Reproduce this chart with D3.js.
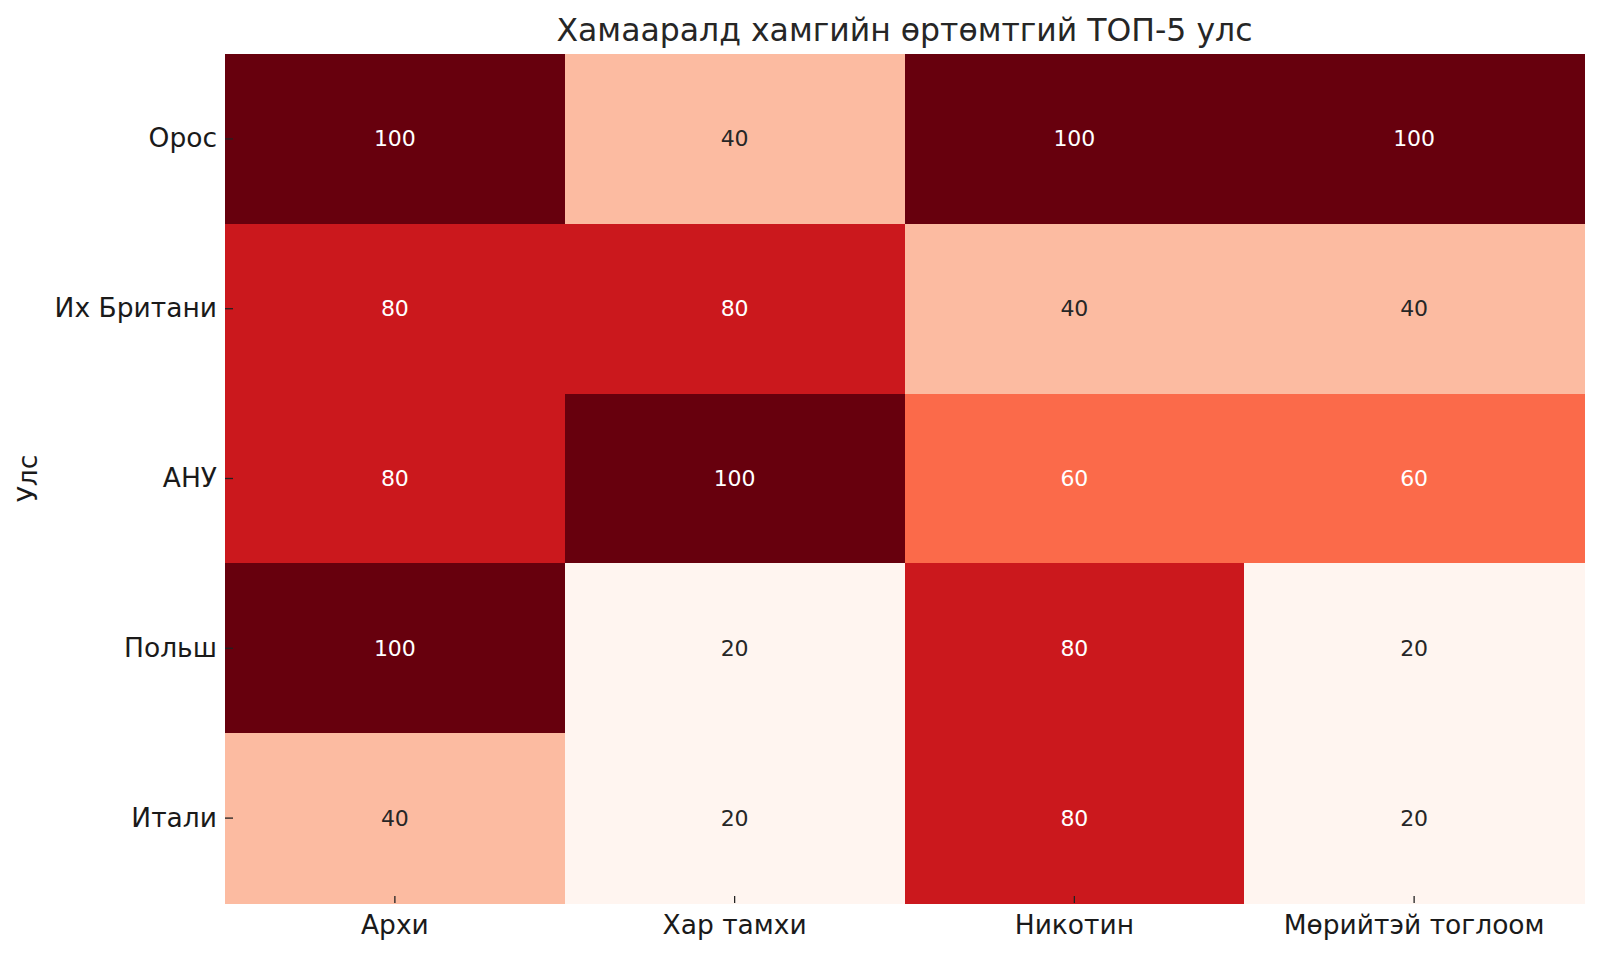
<!DOCTYPE html>
<html>
<head>
<meta charset="utf-8">
<script src="https://cdn.jsdelivr.net/npm/d3@7"></script>
<style>
  html, body { margin: 0; padding: 0; background: #fff; }
  svg { display: block; font-family: "DejaVu Sans", sans-serif; }
</style>
</head>
<body>
<svg id="chart" width="1600" height="954"></svg>
<script>
const countries = ["Орос", "Их Британи", "АНУ", "Польш", "Итали"];
const substances = ["Архи", "Хар тамхи", "Никотин", "Мөрийтэй тоглоом"];
const values = [
  [100, 40, 100, 100],
  [80, 80, 40, 40],
  [80, 100, 60, 60],
  [100, 20, 80, 20],
  [40, 20, 80, 20]
];
const titleText = "Хамааралд хамгийн өртөмтгий ТОП-5 улс";
const yLabelText = "Улс";
const redsPalette = ["#fff5f0","#fee0d2","#fcbba1","#fc9272","#fb6a4a","#ef3b2c","#cb181d","#a50f15","#67000d"];

const svg = d3.select("#chart");
const margin = {left: 225, right: 16, top: 54, bottom: 51};
const W = 1600, H = 954;
const x0 = margin.left, x1 = W - margin.right, y0 = margin.top, y1 = H - margin.bottom;

const x = d3.scaleBand().domain(substances).range([x0, x1]).padding(0);
const y = d3.scaleBand().domain(countries).range([y0, y1]).padding(0);
const vmin = 20, vmax = 100;
const color = d3.scaleLinear()
  .domain(redsPalette.map((c, i) => vmin + (vmax - vmin) * i / (redsPalette.length - 1)))
  .range(redsPalette)
  .clamp(true);

const cells = [];
countries.forEach((c, i) => substances.forEach((s, j) => cells.push({c, s, v: values[i][j]})));

svg.append("g").attr("shape-rendering", "crispEdges").selectAll("rect").data(cells).join("rect")
  .attr("x", d => x(d.s))
  .attr("y", d => y(d.c))
  .attr("width", x.bandwidth() + 0.5)
  .attr("height", y.bandwidth() + 0.5)
  .attr("fill", d => color(d.v));

svg.append("g").selectAll("text").data(cells).join("text")
  .attr("x", d => x(d.s) + x.bandwidth() / 2)
  .attr("y", d => y(d.c) + y.bandwidth() / 2)
  .attr("text-anchor", "middle")
  .attr("dominant-baseline", "central")
  .attr("font-size", 22)
  .attr("fill", d => d.v >= 60 ? "#ffffff" : "#262626")
  .text(d => d.v);

// Axes: ticks drawn inward over the cells, as in reference
const xAxis = d3.axisBottom(x).tickSizeInner(-7).tickSizeOuter(0).tickPadding(12);
const gx = svg.append("g").attr("transform", `translate(0,${y1})`).call(xAxis);
gx.select(".domain").remove();
gx.selectAll(".tick line").attr("stroke", "#222").attr("stroke-width", 1.3);
gx.selectAll(".tick text").attr("font-size", 26.5).attr("fill", "#1a1a1a")
  .attr("font-family", "DejaVu Sans, sans-serif");

const yAxis = d3.axisLeft(y).tickSizeInner(-8).tickSizeOuter(0).tickPadding(8);
const gy = svg.append("g").attr("transform", `translate(${x0},0)`).call(yAxis);
gy.select(".domain").remove();
gy.selectAll(".tick line").attr("stroke", "#222").attr("stroke-width", 1.3);
gy.selectAll(".tick text").attr("font-size", 26.5).attr("fill", "#1a1a1a")
  .attr("font-family", "DejaVu Sans, sans-serif");

svg.append("text")
  .attr("x", (x0 + x1) / 2)
  .attr("y", 41)
  .attr("text-anchor", "middle")
  .attr("font-size", 31.5)
  .attr("fill", "#262626")
  .text(titleText);

svg.append("text")
  .attr("transform", `translate(37,${(y0 + y1) / 2}) rotate(-90)`)
  .attr("text-anchor", "middle")
  .attr("font-size", 26.5)
  .attr("fill", "#1a1a1a")
  .text(yLabelText);
</script>
</body>
</html>
